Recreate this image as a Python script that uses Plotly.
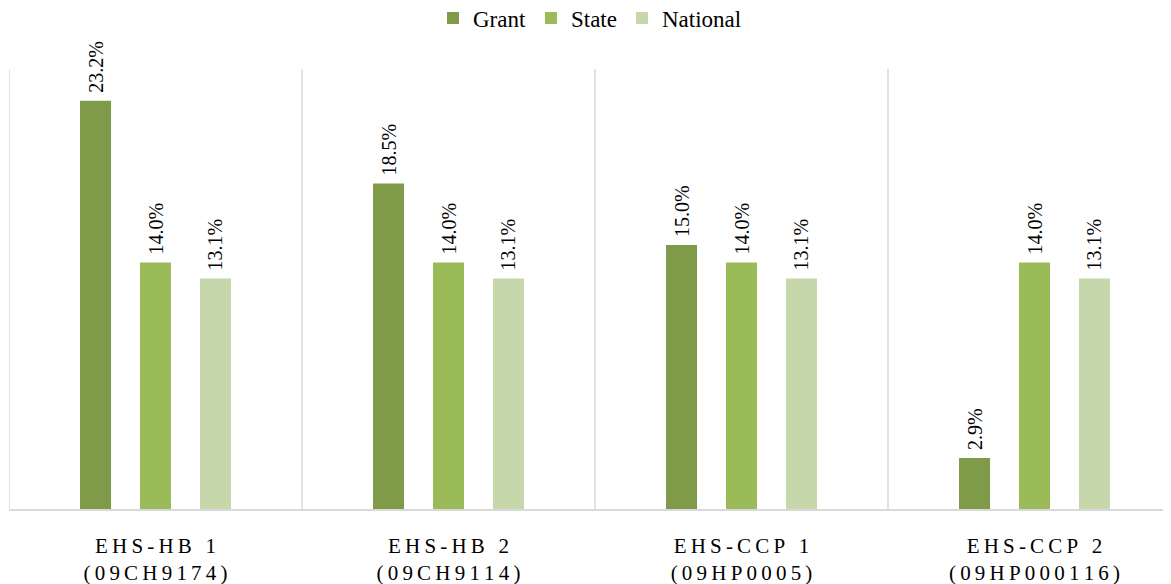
import plotly.graph_objects as go

categories = ["EHS-HB 1\n(09CH9174)", "EHS-HB 2\n(09CH9114)", "EHS-CCP 1\n(09HP0005)", "EHS-CCP 2\n(09HP000116)"]
grant = [23.2, 18.5, 15.0, 2.9]
state = [14.0, 14.0, 14.0, 14.0]
national = [13.1, 13.1, 13.1, 13.1]
series_names = ["Grant", "State", "National"]
colors = ["#7F9A48", "#9BBB59", "#C7D7AC"]

FONT = "Liberation Serif"
SP = "\u2009"

def spaced(s):
    return "<br>".join(SP.join(list(line)) for line in s.split("\n"))

xs = list(range(len(categories)))
fig = go.Figure()
for name, vals, col in zip(series_names, [grant, state, national], colors):
    fig.add_trace(go.Bar(
        x=xs, y=vals, name=name, marker=dict(color=col, line=dict(width=0)),
        text=[f"\u00a0{v:.1f}%" for v in vals], textposition="outside", textangle=-90,
        constraintext="none",
        textfont=dict(family=FONT, size=20, color="#000000"), cliponaxis=False,
    ))

for i in range(len(categories) + 1):
    fig.add_shape(type="line", x0=i - 0.5, x1=i - 0.5, y0=0, y1=1, xref="x", yref="paper",
                  line=dict(color="#D9D9D9", width=1.5), layer="below")

# page body adds an 8px offset; figure sized to fill the remaining window
fig.update_layout(
    width=1163, height=576,
    margin=dict(l=1, r=0, t=61, b=75, autoexpand=False),
    paper_bgcolor="white", plot_bgcolor="white",
    barmode="group", bargap=0.386, bargroupgap=0.483,
    font=dict(family=FONT, size=20, color="#000000"),
    legend=dict(orientation="h", x=0.5, xanchor="center", y=1.116, yanchor="middle",
                font=dict(family=FONT, size=23), traceorder="normal",
                itemwidth=30),
    xaxis=dict(tickmode="array", tickvals=xs, ticktext=[spaced(c) for c in categories],
               range=[-0.5, -0.5 + 1162 / 293], showgrid=False, zeroline=False,
               showline=True, linecolor="#D9D9D9", linewidth=1.5, ticks="",
               automargin=False, ticklabelstandoff=17, tickfont=dict(family=FONT, size=21)),
    yaxis=dict(range=[0, 25], visible=False, showgrid=False, zeroline=False),
    showlegend=True,
)

fig.write_html("out.html")
